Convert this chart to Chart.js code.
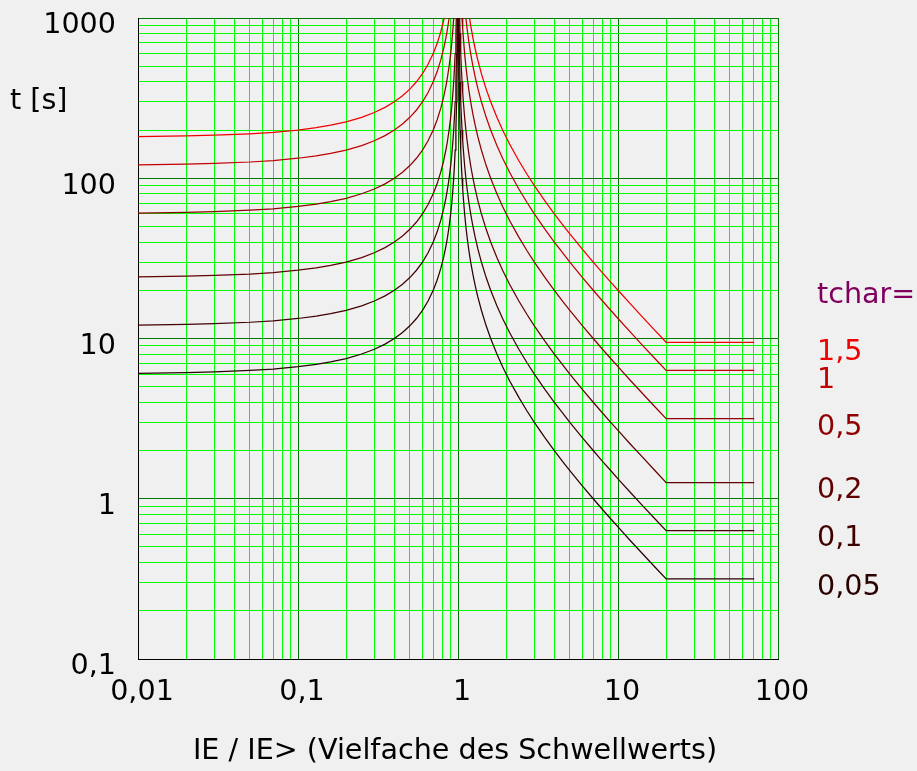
<!DOCTYPE html>
<html>
<head>
<meta charset="utf-8">
<script src="https://cdn.jsdelivr.net/npm/chart.js@4.4.1/dist/chart.umd.min.js"></script>
<style>
  body { margin: 0; background: #f0f0f0; }
  #divChart { width: 917px; height: 771px; position: relative; }
</style>
</head>
<body>
<div id="divChart"><canvas id="chartTrip"></canvas></div>
<script>
// current multiples (IE / IE>)
var currents = [0.01, 0.02, 0.03, 0.05, 0.07, 0.1, 0.13, 0.16, 0.2, 0.25, 0.3, 0.35, 0.4, 0.45, 0.5, 0.55, 0.6, 0.65, 0.7, 0.74,
    0.78, 0.81, 0.84, 0.86, 0.88, 0.9, 0.915, 0.93, 0.94, 0.95, 0.96, 0.97, 0.98, 0.985, 0.99, 0.995,
    1.005, 1.01, 1.015, 1.02, 1.03, 1.04, 1.05, 1.06, 1.07, 1.08, 1.1, 1.12, 1.14, 1.17, 1.2, 1.24, 1.28, 1.33, 1.4, 1.5,
    1.6, 1.75, 1.9, 2.1, 2.4, 2.7, 3, 3.5, 4, 4.5, 5, 6, 7, 8, 9, 10, 12, 14, 17, 20, 71];

// trip times [s] per tchar
var tchar150 = [181.8, 183.7, 185.6, 189.5, 193.5, 200, 206.9, 214.3, 225, 240, 257.1, 276.9, 300, 327.3, 360, 400, 450, 514.3, 600, 692.3,
    818.2, 947.4, 1125, 1286, 1500, 1800, 2118, 2571, 3000, 3600, 4500, 6000, 9000, 12000, 18000, 36000,
    36000, 18000, 12000, 9000, 6000, 4500, 3600, 3000, 2571, 2250, 1800, 1500, 1286, 1059, 900, 750, 642.9, 545.5, 450, 360,
    300, 240, 200, 163.6, 128.6, 105.9, 90, 72, 60, 51.4, 45, 36, 30, 25.7, 22.5, 20, 16.4, 13.85, 11.25, 9.47, 9.47];
var tchar100 = [121.2, 122.4, 123.7, 126.3, 129, 133.3, 137.9, 142.9, 150, 160, 171.4, 184.6, 200, 218.2, 240, 266.7, 300, 342.9, 400, 461.5,
    545.5, 631.6, 750, 857.1, 1000, 1200, 1412, 1714, 2000, 2400, 3000, 4000, 6000, 8000, 12000, 24000,
    24000, 12000, 8000, 6000, 4000, 3000, 2400, 2000, 1714, 1500, 1200, 1000, 857.1, 705.9, 600, 500, 428.6, 363.6, 300, 240,
    200, 160, 133.3, 109.1, 85.7, 70.6, 60, 48, 40, 34.3, 30, 24, 20, 17.14, 15, 13.33, 10.91, 9.23, 7.5, 6.32, 6.32];
var tchar050 = [60.6, 61.2, 61.9, 63.2, 64.5, 66.7, 69, 71.4, 75, 80, 85.7, 92.3, 100, 109.1, 120, 133.3, 150, 171.4, 200, 230.8,
    272.7, 315.8, 375, 428.6, 500, 600, 705.9, 857.1, 1000, 1200, 1500, 2000, 3000, 4000, 6000, 12000,
    12000, 6000, 4000, 3000, 2000, 1500, 1200, 1000, 857.1, 750, 600, 500, 428.6, 352.9, 300, 250, 214.3, 181.8, 150, 120,
    100, 80, 66.7, 54.5, 42.9, 35.3, 30, 24, 20, 17.1, 15, 12, 10, 8.57, 7.5, 6.67, 5.45, 4.62, 3.75, 3.16, 3.16];
var tchar020 = [24.24, 24.49, 24.74, 25.26, 25.81, 26.67, 27.59, 28.57, 30, 32, 34.29, 36.92, 40, 43.64, 48, 53.33, 60, 68.57, 80, 92.31,
    109.1, 126.3, 150, 171.4, 200, 240, 282.4, 342.9, 400, 480, 600, 800, 1200, 1600, 2400, 4800,
    4800, 2400, 1600, 1200, 800, 600, 480, 400, 342.9, 300, 240, 200, 171.4, 141.2, 120, 100, 85.71, 72.73, 60, 48,
    40, 32, 26.67, 21.82, 17.14, 14.12, 12, 9.6, 8, 6.86, 6, 4.8, 4, 3.43, 3, 2.67, 2.18, 1.85, 1.5, 1.26, 1.26];
var tchar010 = [12.12, 12.24, 12.37, 12.63, 12.9, 13.33, 13.79, 14.29, 15, 16, 17.14, 18.46, 20, 21.82, 24, 26.67, 30, 34.29, 40, 46.15,
    54.55, 63.16, 75, 85.71, 100, 120, 141.2, 171.4, 200, 240, 300, 400, 600, 800, 1200, 2400,
    2400, 1200, 800, 600, 400, 300, 240, 200, 171.4, 150, 120, 100, 85.71, 70.59, 60, 50, 42.86, 36.36, 30, 24,
    20, 16, 13.33, 10.91, 8.57, 7.06, 6, 4.8, 4, 3.43, 3, 2.4, 2, 1.71, 1.5, 1.33, 1.09, 0.923, 0.75, 0.632, 0.632];
var tchar005 = [6.06, 6.12, 6.19, 6.32, 6.45, 6.67, 6.9, 7.14, 7.5, 8, 8.57, 9.23, 10, 10.91, 12, 13.33, 15, 17.14, 20, 23.08,
    27.27, 31.58, 37.5, 42.86, 50, 60, 70.59, 85.71, 100, 120, 150, 200, 300, 400, 600, 1200,
    1200, 600, 400, 300, 200, 150, 120, 100, 85.71, 75, 60, 50, 42.86, 35.29, 30, 25, 21.43, 18.18, 15, 12,
    10, 8, 6.67, 5.45, 4.29, 3.53, 3, 2.4, 2, 1.71, 1.5, 1.2, 1, 0.857, 0.75, 0.667, 0.545, 0.462, 0.375, 0.316, 0.316];

var seriesLabels = ['1,5', '1', '0,5', '0,2', '0,1', '0,05'];
var seriesData = [tchar150, tchar100, tchar050, tchar020, tchar010, tchar005];
var seriesColors = ['#f00000', '#c00000', '#900000', '#600000', '#400000', '#2a0000'];

// axis decades and tick labels
var xDecades = [0.01, 0.1, 1, 10, 100];
var xTickLabels = ['0,01', '0,1', '1', '10', '100'];
var yDecades = [0.1, 1, 10, 100, 1000];
var yTickLabels = ['0,1', '1', '10', '100', '1000'];

var xTitle = 'IE / IE> (Vielfache des Schwellwerts)';
var yTitle = 't [s]';
var legendTitle = 'tchar=';

var fontSize = 28.6;

function gridValues(decades) {
    var vals = [];
    for (var i = 0; i < decades.length; i++) {
        if (i == decades.length - 1) { vals.push(decades[i]); break; }
        for (var m = 1; m < 10; m++) {
            vals.push(parseFloat((decades[i] * m).toPrecision(3)));
        }
    }
    return vals;
}

function isDecade(v, decades) {
    for (var i = 0; i < decades.length; i++) {
        if (Math.abs(v / decades[i] - 1) < 1e-6) return i;
    }
    return -1;
}

var datasets = [];
for (var s = 0; s < seriesData.length; s++) {
    var pts = [];
    for (var i = 0; i < currents.length; i++) {
        pts.push({x: currents[i], y: seriesData[s][i]});
    }
    datasets.push({
        label: seriesLabels[s],
        data: pts,
        borderColor: seriesColors[s],
        borderWidth: 1.25,
        pointRadius: 0,
        tension: 0,
        fill: false
    });
}

// axis titles and tchar labels
var extraText = {
    id: 'extraText',
    afterDraw: function(chart) {
        var ctx = chart.ctx;
        ctx.save();
        ctx.font = fontSize + 'px "DejaVu Sans"';
        ctx.textBaseline = 'middle';
        ctx.textAlign = 'left';
        ctx.fillStyle = '#000';
        ctx.fillText(yTitle, 10, 102);
        ctx.textAlign = 'center';
        ctx.fillText(xTitle, 455, 752);
        ctx.textAlign = 'left';
        ctx.fillStyle = '#800060';
        ctx.fillText(legendTitle, 817, 296);
        var labelY = [353, 381, 428, 491, 539, 588];
        for (var i = 0; i < seriesLabels.length; i++) {
            ctx.fillStyle = seriesColors[i];
            ctx.fillText(seriesLabels[i], 817, labelY[i]);
        }
        ctx.restore();
    }
};

var ctx = document.getElementById('chartTrip');
var myTripChart = new Chart(ctx, {
    type: 'line',
    data: { datasets: datasets },
    plugins: [extraText],
    options: {
        responsive: true,
        maintainAspectRatio: false,
        animation: false,
        layout: { padding: { left: 0, top: 18, right: 139, bottom: 0 } },
        plugins: {
            legend: { display: false },
            tooltip: { enabled: false }
        },
        scales: {
            x: {
                type: 'logarithmic',
                min: 0.01,
                max: 100,
                afterBuildTicks: function(scale) {
                    scale.ticks = gridValues(xDecades).map(function(v) { return {value: v}; });
                },
                afterFit: function(scale) {
                    scale.height = 112;
                    scale.paddingLeft = 0;
                    scale.paddingRight = 0;
                },
                grid: {
                    drawTicks: false,
                    lineWidth: 1,
                    color: function(c) {
                        return (c.tick && isDecade(c.tick.value, xDecades) >= 0) ? '#007a00' : '#00ff00';
                    }
                },
                border: { display: true, color: '#000', width: 1 },
                ticks: {
                    autoSkip: false,
                    maxRotation: 0,
                    padding: 16,
                    labelOffset: 4,
                    color: '#000',
                    font: { family: 'DejaVu Sans', size: fontSize },
                    callback: function(value) {
                        var k = isDecade(value, xDecades);
                        return k >= 0 ? xTickLabels[k] : '';
                    }
                }
            },
            y: {
                type: 'logarithmic',
                min: 0.1,
                max: 1000,
                afterBuildTicks: function(scale) {
                    scale.ticks = gridValues(yDecades).map(function(v) { return {value: v}; });
                },
                afterFit: function(scale) {
                    scale.width = 138;
                    scale.paddingTop = 0;
                    scale.paddingBottom = 0;
                },
                grid: {
                    drawTicks: false,
                    lineWidth: 1,
                    color: function(c) {
                        return (c.tick && isDecade(c.tick.value, yDecades) >= 0) ? '#007a00' : '#00ff00';
                    }
                },
                border: { display: true, color: '#000', width: 1 },
                ticks: {
                    autoSkip: false,
                    padding: 22,
                    labelOffset: 8,
                    color: '#000',
                    font: { family: 'DejaVu Sans', size: fontSize },
                    callback: function(value) {
                        var k = isDecade(value, yDecades);
                        return k >= 0 ? yTickLabels[k] : '';
                    }
                }
            }
        }
    }
});
</script>
</body>
</html>
